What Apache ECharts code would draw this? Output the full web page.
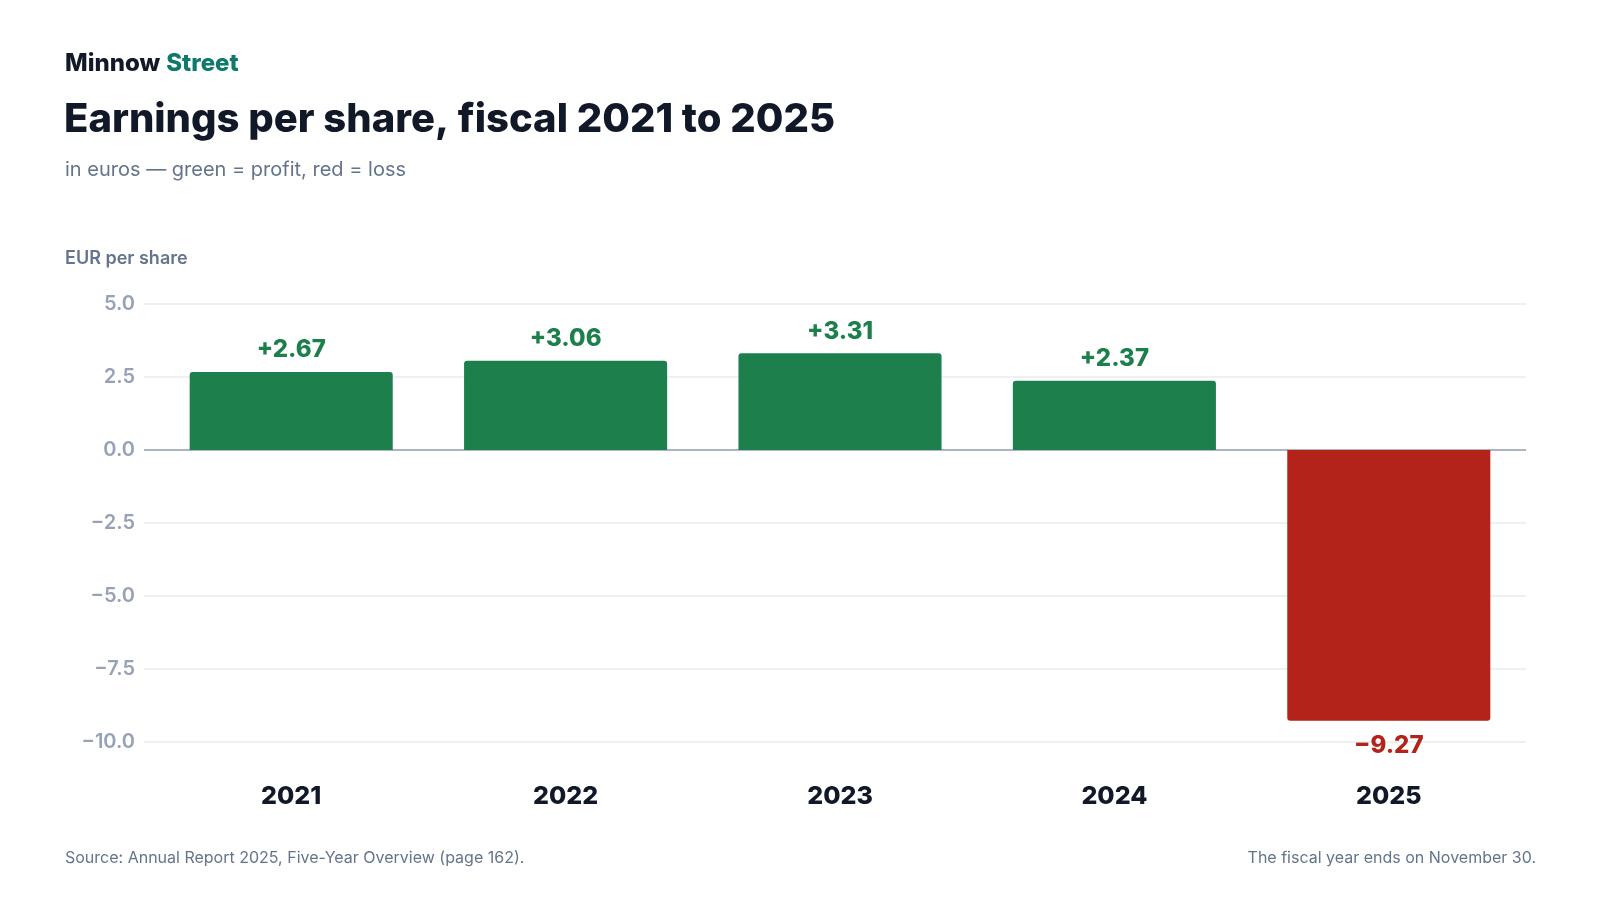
<!DOCTYPE html>
<html lang="en">
<head>
    <meta charset="UTF-8">
    <title>Earnings per share</title>
    <script type="text/javascript" src="https://cdn.jsdelivr.net/npm/echarts@6/dist/echarts.min.js"></script>
    <style>
        html, body { margin: 0; padding: 0; background: #ffffff; }
    </style>
</head>
<body>
<div id="main" style="width: 1600px;height:900px"></div>

<script type="text/javascript">
    // data
    var years = ['2021', '2022', '2023', '2024', '2025'];
    var eps = [2.67, 3.06, 3.31, 2.37, -9.27];
    var yTicks = { min: -10, max: 5, interval: 2.5 };

    var GREEN = '#1c7f4c';
    var RED = '#b3231a';
    var GRID_LINE = '#e8ecf1';
    var ZERO_LINE = '#909cb0';
    var FONT = 'Inter, "Noto Sans", sans-serif';

    function signed(v, digits) {
        var s = Math.abs(v).toFixed(digits);
        if (v > 0) return '+' + s;
        if (v < 0) return '\u2212' + s;
        return s;
    }

    var barData = [];
    for (var i = 0; i < eps.length; i++) {
        var v = eps[i];
        var pos = v >= 0;
        barData.push({
            value: v,
            itemStyle: {
                color: pos ? GREEN : RED,
                borderRadius: pos ? [3, 3, 0, 0] : [0, 0, 3, 3]
            },
            label: {
                position: pos ? 'top' : 'bottom',
                distance: pos ? 10 : 13,
                color: pos ? GREEN : RED
            }
        });
    }

    // split line colours, one per tick from min upwards; the zero line is darker
    var splitColors = [];
    for (var t = yTicks.min; t <= yTicks.max + 1e-9; t += yTicks.interval) {
        splitColors.push(Math.abs(t) < 1e-9 ? ZERO_LINE : GRID_LINE);
    }

    var chartDom = document.getElementById('main');
    var myChart = echarts.init(chartDom);
    var option;

    option = {
        backgroundColor: '#ffffff',
        animation: false,
        textStyle: { fontFamily: FONT },
        title: [
            {
                text: '{a|Minnow}{b|Street}',
                left: 60, top: 47,
                textStyle: {
                    rich: {
                        a: { fontFamily: FONT, fontSize: 24, fontWeight: 800, color: '#111827', padding: [0, 6, 0, 0] },
                        b: { fontFamily: FONT, fontSize: 24, fontWeight: 800, color: '#0f7a6b' }
                    }
                }
            },
            {
                text: 'Earnings per share, fiscal 2021 to 2025',
                left: 59, top: 95,
                textStyle: { fontFamily: FONT, fontSize: 40, fontWeight: 800, color: '#111827', letterSpacing: -0.9 }
            },
            {
                text: 'in euros \u2014 green = profit, red = loss',
                left: 60, top: 155,
                textStyle: { fontFamily: FONT, fontSize: 20, fontWeight: 'normal', color: '#64748b' }
            },
            {
                text: 'EUR per share',
                left: 60, top: 245,
                textStyle: { fontFamily: FONT, fontSize: 18, fontWeight: 600, color: '#64748b' }
            },
            {
                text: 'Source: Annual Report 2025, Five-Year Overview (page 162).',
                left: 60, top: 845,
                textStyle: { fontFamily: FONT, fontSize: 16, fontWeight: 'normal', color: '#64748b' }
            },
            {
                text: 'The fiscal year ends on November 30.',
                right: 59, top: 845,
                textStyle: { fontFamily: FONT, fontSize: 16, fontWeight: 'normal', color: '#64748b' }
            }
        ],
        grid: [
            // grid 0 carries the value labels and grid lines
            { left: 144, right: 74, top: 304, bottom: 158 },
            // grid 1 carries the bars, inset a little from the left
            { left: 154, right: 74, top: 304, bottom: 158 }
        ],
        xAxis: [
            {
                gridIndex: 0,
                type: 'category',
                data: years,
                show: false
            },
            {
                gridIndex: 1,
                type: 'category',
                data: years,
                axisLine: { show: false, onZero: false },
                axisTick: { show: false },
                axisLabel: {
                    margin: 42,
                    fontFamily: FONT,
                    fontSize: 25,
                    fontWeight: 800,
                    color: '#111827'
                }
            }
        ],
        yAxis: [
            {
                gridIndex: 0,
                type: 'value',
                min: yTicks.min,
                max: yTicks.max,
                interval: yTicks.interval,
                axisLine: { show: false },
                axisTick: { show: false },
                splitLine: { lineStyle: { color: splitColors, width: 1.5 } },
                axisLabel: {
                    margin: 9,
                    fontFamily: FONT,
                    fontSize: 20,
                    fontWeight: 600,
                    color: '#97a2b6',
                    formatter: function (v) { return signed(v, 1).replace('+', ''); }
                }
            },
            {
                gridIndex: 1,
                type: 'value',
                min: yTicks.min,
                max: yTicks.max,
                interval: yTicks.interval,
                show: false,
                splitLine: { show: false }
            }
        ],
        series: [
            {
                type: 'bar',
                xAxisIndex: 1,
                yAxisIndex: 1,
                data: barData,
                barCategoryGap: '26%',
                label: {
                    show: true,
                    fontFamily: FONT,
                    fontSize: 24,
                    fontWeight: 800,
                    formatter: function (p) { return signed(p.value, 2); }
                }
            }
        ]
    };

    option && myChart.setOption(option);
</script>
</body>
</html>
